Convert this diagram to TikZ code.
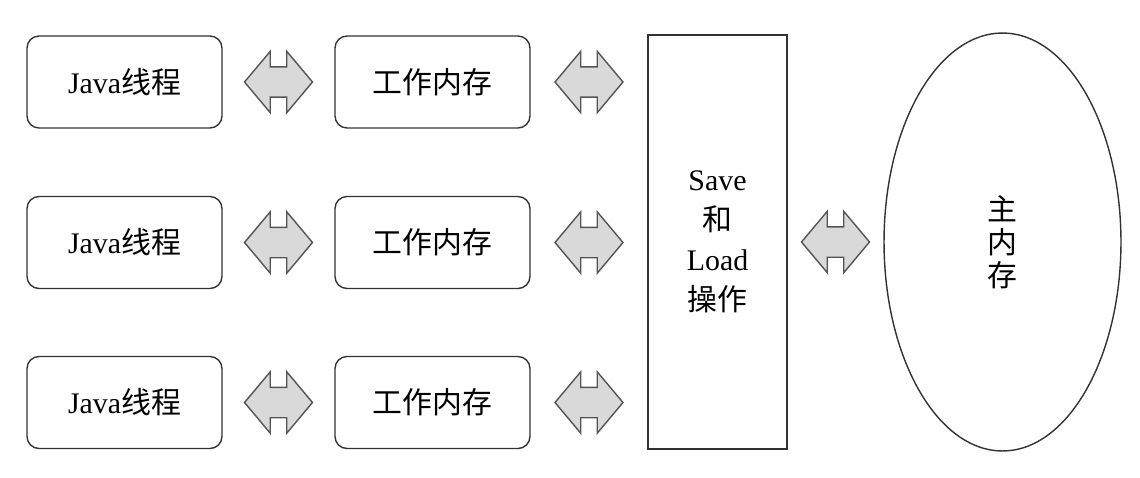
\documentclass[tikz,border=0pt]{standalone}
\usepackage{fontspec}
\setmainfont{Liberation Serif}
\newfontfamily\cjk{Noto Sans CJK SC}
\usetikzlibrary{shapes.arrows,shapes.geometric,calc}
\definecolor{linegray}{HTML}{333333}
\definecolor{arrowfill}{HTML}{D9D9D9}
\definecolor{arrowline}{HTML}{555555}

\begin{document}
\begin{tikzpicture}[x=0.02cm,y=-0.02cm,
  box/.style={draw=linegray,line width=0.8pt,rounded corners=0.24cm,
    minimum width=3.9cm,minimum height=1.84cm,font=\fontsize{17}{20}\selectfont},
  dbl/.style={double arrow,draw=arrowline,fill=arrowfill,line width=0.8pt,
    inner sep=0pt,text height=0.29cm,text depth=0.29cm,minimum height=1.36cm,
    minimum width=1.2cm,double arrow head extend=0.31cm,double arrow tip angle=100}]
  \useasboundingbox (0,0) rectangle (1140,477);
  \node[draw=linegray,line width=0.8pt,minimum width=2.78cm,minimum height=8.28cm,
    align=center,font=\fontsize{17}{22.7}\selectfont] (save) at (717.5,242)
    {Save\\{\cjk 和}\\Load\\{\cjk 操作}};
  \node[draw=linegray,line width=0.8pt,ellipse,inner sep=0pt,minimum width=4.74cm,
    minimum height=8.36cm,align=center,font=\cjk\fontsize{17}{18.7}\selectfont]
    (main) at (1002.5,242) {主\\内\\存};
  \foreach \i/\y in {1/82,2/242.5,3/402.5} {
    \node[box] (java\i) at (124.5,\y) {Java{\cjk 线程}};
    \node[box] (work\i) at (432.5,\y) {\cjk 工作内存};
    \node[dbl] (jw\i) at ($(java\i.east)!0.5!(work\i.west)$) {};
    \node[dbl] (ws\i) at ($(work\i.east)!0.5!(work\i.east -| save.west)$) {};
  }
  \node[dbl] (sm) at ($(save.east)!0.5!(main.west)$) {};
\end{tikzpicture}
\end{document}
